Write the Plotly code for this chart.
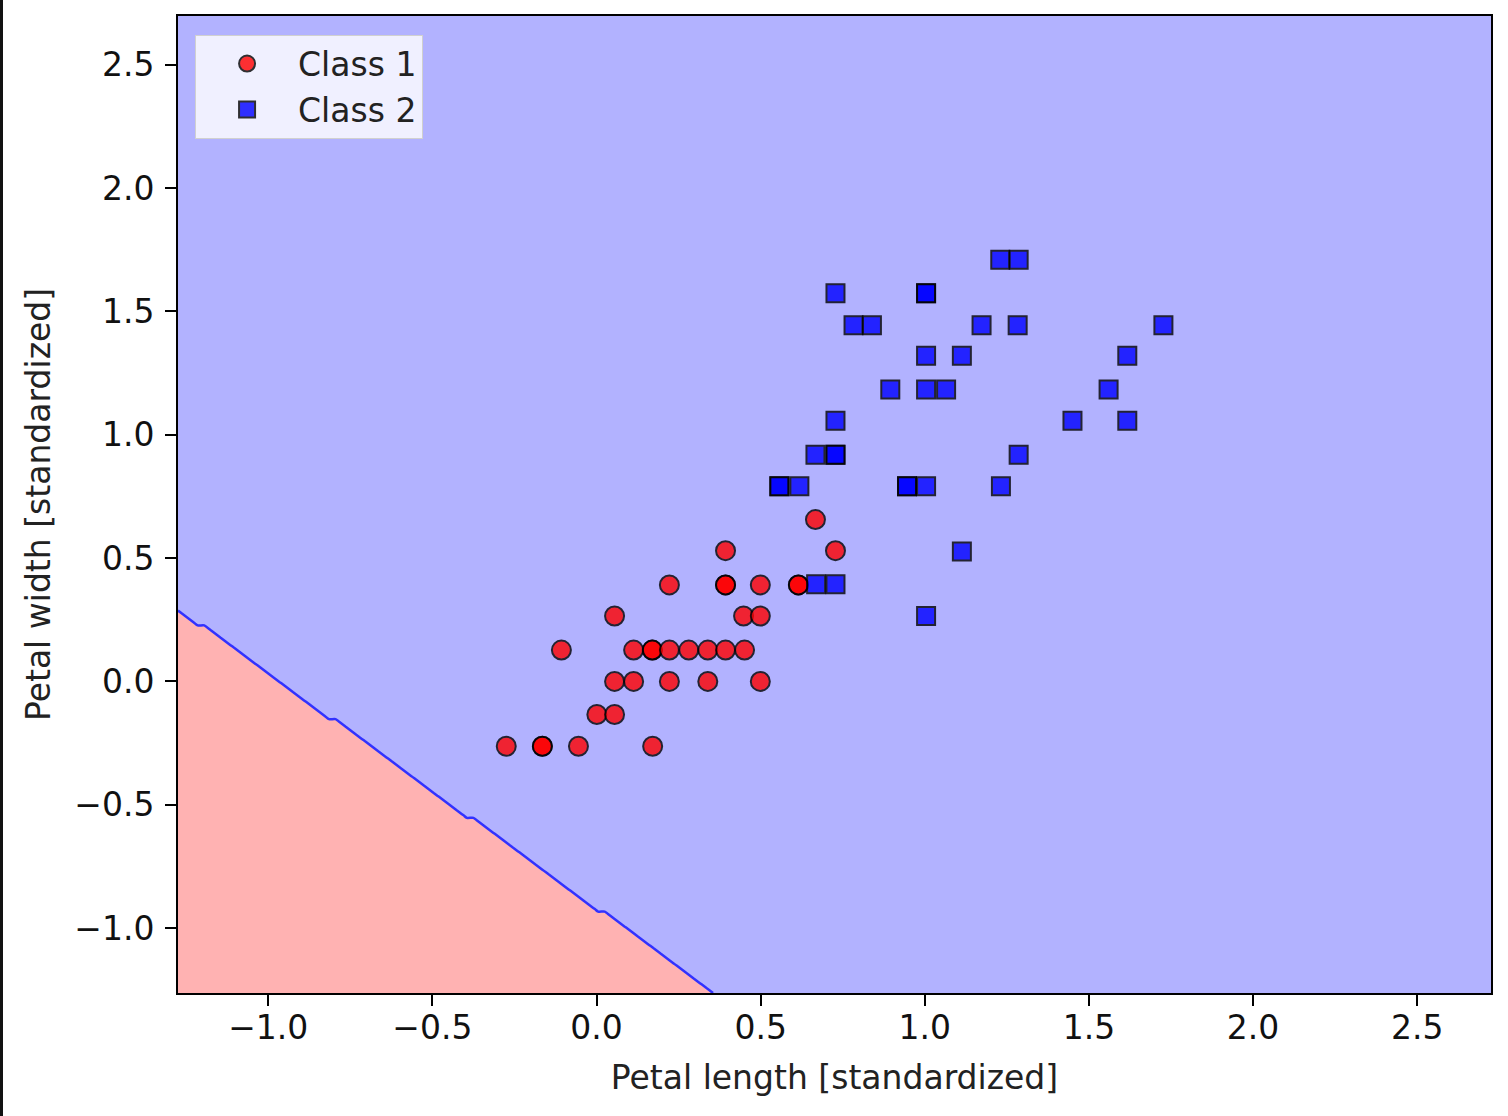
import numpy as np
import plotly.graph_objects as go

# ---- data (standardized petal length / width) ----
class1_x = [-0.275, -0.165, -0.165, -0.055, 0.171,
            0.001, 0.055,
            0.055, 0.113, 0.222, 0.339, 0.499,
            -0.107, 0.113, 0.170, 0.170, 0.222, 0.281, 0.339, 0.393, 0.451,
            0.055, 0.448, 0.499,
            0.222, 0.393, 0.393, 0.499, 0.615, 0.615,
            0.393, 0.728,
            0.667]
class1_y = [-0.263, -0.263, -0.263, -0.263, -0.263,
            -0.134, -0.134,
            0.0, 0.0, 0.0, 0.0, 0.0,
            0.127, 0.127, 0.127, 0.127, 0.127, 0.127, 0.127, 0.127, 0.127,
            0.265, 0.265, 0.265,
            0.391, 0.391, 0.391, 0.391, 0.391, 0.391,
            0.530, 0.530,
            0.656]

class2_x = [1.230, 1.286,
            0.728, 1.004, 1.004,
            0.783, 0.839, 1.173, 1.283, 1.727,
            1.004, 1.113, 1.617,
            0.895, 1.004, 1.065, 1.560,
            0.728, 1.450, 1.617,
            0.667, 0.728, 0.728, 1.286,
            0.557, 0.557, 0.618, 0.946, 0.946, 1.004, 1.232,
            1.113,
            0.669, 0.728,
            1.004]
class2_y = [1.709, 1.709,
            1.573, 1.573, 1.573,
            1.444, 1.444, 1.444, 1.444, 1.444,
            1.320, 1.320, 1.320,
            1.183, 1.183, 1.183, 1.183,
            1.056, 1.056, 1.056,
            0.919, 0.919, 0.919, 0.919,
            0.791, 0.791, 0.791, 0.791, 0.791, 0.791, 0.791,
            0.527,
            0.394, 0.394,
            0.265]

# linear classifier (decision: class 2 if w1*x + w2*y + b > 0)
weights = [0.951, 1.0]
bias = [0.919]
class_labels = [1, 2]
legend_names = ["Class 1", "Class 2"]
tick_vals = [-1.0, -0.5, 0.0, 0.5, 1.0, 1.5, 2.0, 2.5]
resolution = 0.02

# ---- decision grid ----
all_x = np.array(class1_x + class2_x)
all_y = np.array(class1_y + class2_y)
x_min, x_max = all_x.min() - 1, all_x.max() + 1
y_min, y_max = all_y.min() - 1, all_y.max() + 1
xx = np.arange(x_min, x_max, resolution)
yy = np.arange(y_min, y_max, resolution)
XX, YY = np.meshgrid(xx, yy)
Z = np.where(weights[0] * XX + weights[1] * YY + bias[0] > 0,
             class_labels[1], class_labels[0]).astype(float)

FONT = "DejaVu Sans"
FS = 33
fig = go.Figure()

# constraint contours shade the region that violates the constraint
fig.add_trace(go.Contour(
    x=xx, y=yy, z=Z, showscale=False, hoverinfo="skip",
    contours=dict(type="constraint", operation=">", value=1.5),
    fillcolor="rgb(255,178,178)", line=dict(width=0),
    showlegend=False))
fig.add_trace(go.Contour(
    x=xx, y=yy, z=Z, showscale=False, hoverinfo="skip",
    contours=dict(type="constraint", operation="<", value=1.5),
    fillcolor="rgb(178,178,255)", line=dict(width=2.5, color="rgb(50,50,255)"),
    showlegend=False))

fig.add_trace(go.Scatter(
    x=class1_x, y=class1_y, mode="markers", name=legend_names[0],
    marker=dict(symbol="circle", size=19, color="red", opacity=0.8,
                line=dict(color="black", width=2))))
fig.add_trace(go.Scatter(
    x=class2_x, y=class2_y, mode="markers", name=legend_names[1],
    marker=dict(symbol="square", size=18, color="blue", opacity=0.8,
                line=dict(color="black", width=2))))

axis_common = dict(
    showgrid=False, zeroline=False, showline=True, mirror=True,
    linecolor="black", linewidth=2, ticks="outside", ticklen=11,
    tickwidth=2, tickcolor="black", tickvals=tick_vals,
    ticktext=[("\u2212" if v < 0 else "") + f"{abs(v):.1f}" for v in tick_vals],
    tickfont=dict(family=FONT, size=FS, color="#111"),
)

fig.update_layout(
    width=1508, height=1116,
    margin=dict(l=178, r=17, t=16, b=123),
    paper_bgcolor="white", plot_bgcolor="white",
    font=dict(family=FONT, size=FS, color="#111"),
    xaxis=dict(range=[xx.min(), xx.max()],
               title=dict(text="Petal length [standardized]",
                          font=dict(family=FONT, size=FS, color="#222"),
                          standoff=20),
               ticklabelstandoff=-7,
               **axis_common),
    yaxis=dict(range=[yy.min(), yy.max()],
               title=dict(text="Petal width [standardized]",
                          font=dict(family=FONT, size=FS, color="#222"),
                          standoff=14),
               ticklabelstandoff=4,
               **axis_common),
    legend=dict(x=0.013, y=0.981, xanchor="left", yanchor="top",
                bgcolor="rgba(255,255,255,0.8)", bordercolor="#d0d0d0",
                borderwidth=1, font=dict(family=FONT, size=FS, color="#222"),
                itemwidth=92),
    shapes=[dict(type="rect", xref="paper", yref="paper",
                 x0=-178 / 1313, x1=-175 / 1313, y0=-123 / 977, y1=1 + 16 / 977,
                 fillcolor="#111", line=dict(width=0))],
)

fig.write_html("out.html",
               config={"displayModeBar": False},
               post_script="document.body.style.margin='0px';")
